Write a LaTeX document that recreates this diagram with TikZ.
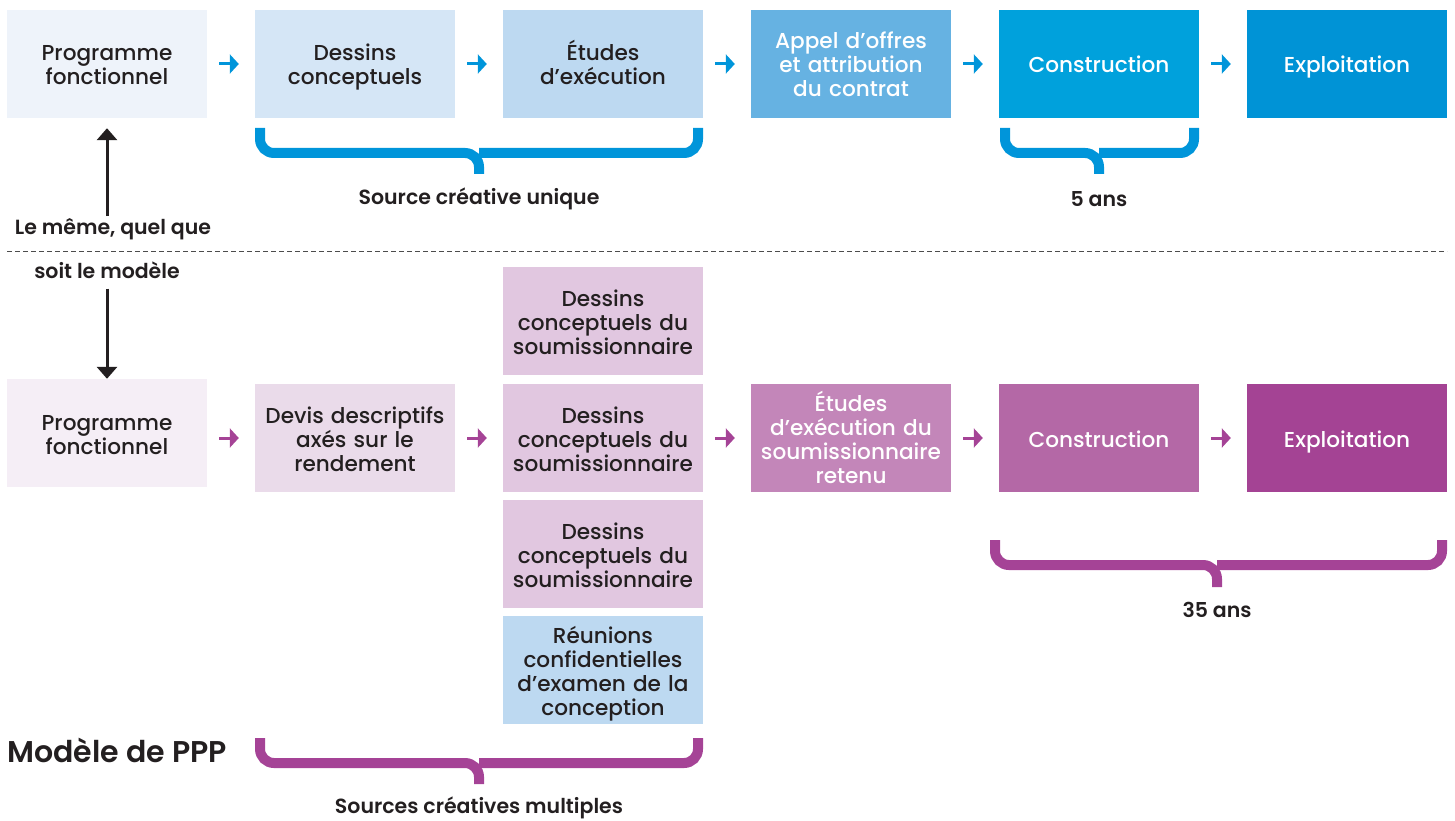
\documentclass[tikz,border=0pt]{standalone}
\usepackage{fontspec}
\setmainfont{Poppins}[UprightFont={* Medium}, BoldFont={* SemiBold}]
\usetikzlibrary{arrows.meta,calc}
\newcommand\bxtop{\rule{0pt}{24pt}}
\newcommand\bxbot{\rule[-6pt]{0pt}{6pt}}
\definecolor{txt}{HTML}{231F20}
\definecolor{bA}{HTML}{EEF3FA}
\definecolor{bB}{HTML}{D5E6F6}
\definecolor{bC}{HTML}{BDD9F1}
\definecolor{bD}{HTML}{66B2E2}
\definecolor{bE}{HTML}{00A1DC}
\definecolor{bF}{HTML}{0093D6}
\definecolor{blueline}{HTML}{0095DA}
\definecolor{pA}{HTML}{F5EEF6}
\definecolor{pB}{HTML}{EADBEA}
\definecolor{pC}{HTML}{E1C7E0}
\definecolor{pD}{HTML}{C386B9}
\definecolor{pE}{HTML}{B468A6}
\definecolor{pF}{HTML}{A44394}
\definecolor{purpleline}{HTML}{A54396}
\begin{document}
\begin{tikzpicture}[x=1pt,y=-1pt,
  box/.style={minimum width=200pt, minimum height=108pt, text width=198pt, align=center,
    inner sep=0pt, font=\fontsize{21.6}{24}\selectfont, text=txt,
    execute at begin node=\bxtop, execute at end node=\bxbot},
  wbox/.style={box, text=white},
  flowB/.style={line width=3pt, blueline, -{Triangle[length=9pt,width=19pt]}, shorten <=12pt, shorten >=16pt},
  flowP/.style={line width=3pt, purpleline, -{Triangle[length=9pt,width=19pt]}, shorten <=12pt, shorten >=16pt},
  vflow/.style={line width=3pt, txt, -{Triangle[length=12pt,width=20pt]}},
  lbl/.style={font=\bfseries\fontsize{20.5}{22}\selectfont, text=txt, inner sep=0pt},
  brace/.style={line width=10pt, rounded corners=14pt}
]
\useasboundingbox (0,0) rectangle (1455,821);

% top row
\node[box, fill=bA] (t1) at (107,64) {Programme\\fonctionnel};
\node[box, fill=bB] (t2) at (355,64) {Dessins\\conceptuels};
\node[box, fill=bC] (t3) at (603,64) {Études\\d’exécution};
\node[wbox, fill=bD] (t4) at (851,64) {Appel d’offres\\et attribution\\du contrat};
\node[wbox, fill=bE] (t5) at (1099,64) {Construction};
\node[wbox, fill=bF] (t6) at (1347,64) {Exploitation};
\draw[flowB] (t1.east) -- (t2.west);
\draw[flowB] (t2.east) -- (t3.west);
\draw[flowB] (t3.east) -- (t4.west);
\draw[flowB] (t4.east) -- (t5.west);
\draw[flowB] (t5.east) -- (t6.west);

% top braces
\draw[brace, blueline] (260,128) -- (260,153) -- (479,153) -- (479,174);
\draw[brace, blueline] (698,128) -- (698,153) -- (479,153);
\node[lbl] (src1) at (479,199) {Source créative unique};
\draw[brace, blueline] (1005,128) -- (1005,153) -- (1099,153) -- (1099,174);
\draw[brace, blueline] (1194,128) -- (1194,153) -- (1099,153);
\node[lbl] (ans5) at (1099,199) {5 ans};

% middle labels and dashed line
\node[lbl] (same1) at (113,229) {Le même, quel que};
\node[lbl] (same2) at (107,270) {soit le modèle};
\coordinate (dl) at (7,251);
\coordinate (dr) at (1447,251);
\draw[line width=1pt, black!70, dash pattern=on 5pt off 3pt] (dl) -- (dr);
\coordinate (ua) at ($(same1.north -| t1.south)+(0,-2)$);
\draw[vflow] (ua) -- ($(t1.south)+(0,10)$);

% bottom row
\node[box, fill=pA] (b1) at (107,433) {Programme\\fonctionnel};
\node[box, fill=pB] (b2) at (355,438) {Devis descriptifs\\axés sur le\\rendement};
\node[box, fill=pC] (d1) at (603,321) {Dessins\\conceptuels du\\soumissionnaire};
\node[box, fill=pC] (d2) at (603,438) {Dessins\\conceptuels du\\soumissionnaire};
\node[box, fill=pC] (d3) at (603,554) {Dessins\\conceptuels du\\soumissionnaire};
\node[box, fill=bC] (d4) at (603,670) {Réunions\\confidentielles\\d’examen de la\\conception};
\node[wbox, fill=pD] (b4) at (851,438) {Études\\d’exécution du\\soumissionnaire\\retenu};
\node[wbox, fill=pE] (b5) at (1099,438) {Construction};
\node[wbox, fill=pF] (b6) at (1347,438) {Exploitation};
\draw[flowP] (b1.east |- b2.west) -- (b2.west);
\draw[flowP] (b2.east) -- (d2.west);
\draw[flowP] (d2.east) -- (b4.west);
\draw[flowP] (b4.east) -- (b5.west);
\draw[flowP] (b5.east) -- (b6.west);
\coordinate (la) at ($(same2.south -| b1.north)+(0,10)$);
\draw[vflow] (la) -- (b1.north);

% bottom braces
\draw[brace, purpleline] (995,540) -- (995,565) -- (1217,565) -- (1217,587);
\draw[brace, purpleline] (1442,540) -- (1442,565) -- (1217,565);
\node[lbl] (ans35) at (1217,610) {35 ans};
\draw[brace, purpleline] (260,738) -- (260,763) -- (479,763) -- (479,784);
\draw[brace, purpleline] (698,738) -- (698,763) -- (479,763);
\node[lbl] (src2) at (479,808) {Sources créatives multiples};
\node[font=\bfseries\fontsize{30}{32}\selectfont, text=txt, anchor=west, inner sep=0pt] (ppp) at (7,750) {Modèle de PPP};
\end{tikzpicture}
\end{document}
